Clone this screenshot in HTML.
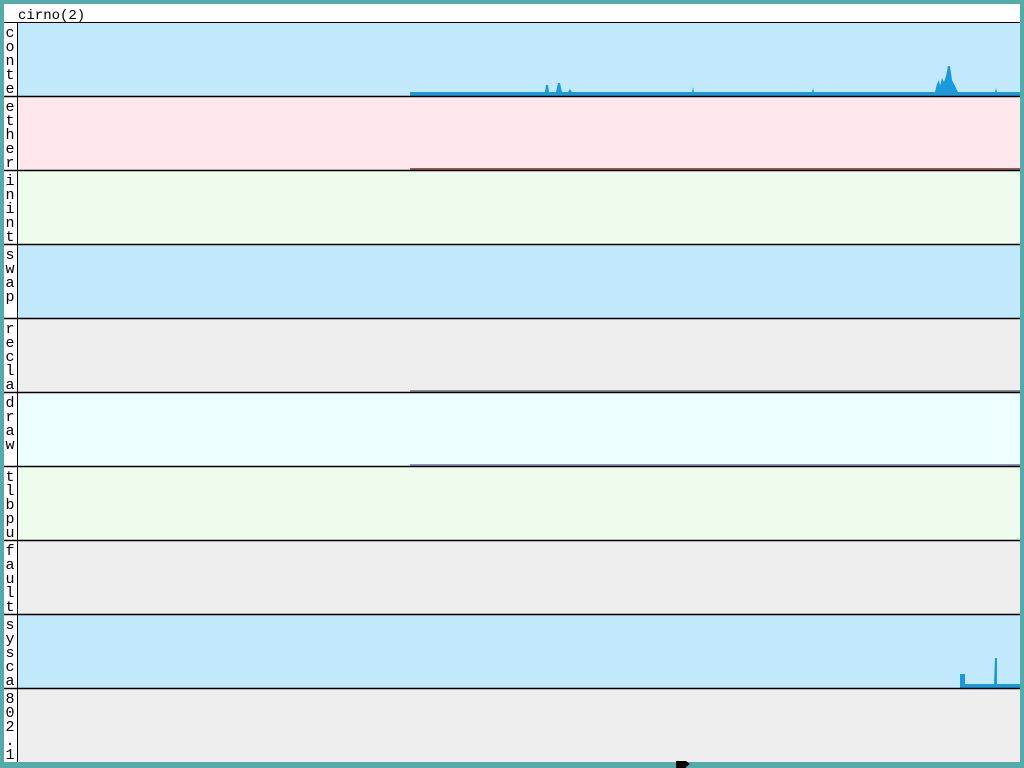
<!DOCTYPE html>
<html><head><style>
html,body{margin:0;padding:0;background:#55AAAA;}
svg{display:block}
text{font-family:"Liberation Mono",monospace;font-size:15px;fill:#000}
</style></head><body>
<svg width="1024" height="768" xmlns="http://www.w3.org/2000/svg">
<rect x="0" y="0" width="1024" height="768" fill="#55AAAA"/>
<rect x="4" y="4" width="1016" height="758" fill="#fff"/>
<text x="18" y="19" style="font-size:14px">cirno(2)</text>
<line x1="4" y1="22.5" x2="1020" y2="22.5" stroke="#000"/>
<line x1="17.5" y1="23" x2="17.5" y2="762" stroke="#000"/>
<g>
<rect x="18" y="23" width="1002" height="73" fill="#C2E8FB"/>
<rect x="18" y="97" width="1002" height="73" fill="#FFE8EC"/>
<rect x="18" y="171" width="1002" height="73" fill="#EEFCEE"/>
<rect x="18" y="245" width="1002" height="73" fill="#C2E8FB"/>
<rect x="18" y="319" width="1002" height="73" fill="#EEEEEE"/>
<rect x="18" y="393" width="1002" height="73" fill="#EEFFFF"/>
<rect x="18" y="467" width="1002" height="73" fill="#EEFCEE"/>
<rect x="18" y="541" width="1002" height="73" fill="#EEEEEE"/>
<rect x="18" y="615" width="1002" height="73" fill="#C2E8FB"/>
<rect x="18" y="689" width="1002" height="73" fill="#EEEEEE"/>
</g>
<rect x="4" y="23" width="13" height="739" fill="#fff"/>
<rect x="410" y="92" width="610" height="4" fill="#1A9AD8"/>
<polygon fill="#1A9AD8" points="545,92 546,85 548,85 549,92 556,92 558,83 560,83 562,92 568,92 570,89 572,92 692,92 693,87 694,92 812,92 813,88 814,92 935,92 937,84 939,80 940,86 942,78 944,82 946,76 948,66 950,66 952,80 954,84 956,88 958,92 995,92 996,88 997,92"/>
<rect x="410" y="168" width="610" height="2" fill="#A05A5A"/>
<rect x="410" y="390" width="610" height="2" fill="#8A8E9A"/>
<rect x="410" y="464" width="610" height="2" fill="#8A9AB8"/>
<rect x="960" y="684" width="60" height="4" fill="#1A9AD8"/>
<polygon fill="#1A9AD8" points="960,684 960,674 965,674 965,684 994,684 995,658 997,658 997,684"/>
<g stroke="#000" stroke-width="1.5">
<line x1="4" y1="96.5" x2="1020" y2="96.5"/>
<line x1="4" y1="170.5" x2="1020" y2="170.5"/>
<line x1="4" y1="244.5" x2="1020" y2="244.5"/>
<line x1="4" y1="318.5" x2="1020" y2="318.5"/>
<line x1="4" y1="392.5" x2="1020" y2="392.5"/>
<line x1="4" y1="466.5" x2="1020" y2="466.5"/>
<line x1="4" y1="540.5" x2="1020" y2="540.5"/>
<line x1="4" y1="614.5" x2="1020" y2="614.5"/>
<line x1="4" y1="688.5" x2="1020" y2="688.5"/>
</g>
<g text-anchor="middle">
<text x="10" y="37">c</text><text x="10" y="51">o</text><text x="10" y="65">n</text><text x="10" y="79">t</text><text x="10" y="93">e</text>
<text x="10" y="111">e</text><text x="10" y="125">t</text><text x="10" y="139">h</text><text x="10" y="153">e</text><text x="10" y="167">r</text>
<text x="10" y="185">i</text><text x="10" y="199">n</text><text x="10" y="213">i</text><text x="10" y="227">n</text><text x="10" y="241">t</text>
<text x="10" y="259">s</text><text x="10" y="273">w</text><text x="10" y="287">a</text><text x="10" y="301">p</text>
<text x="10" y="333">r</text><text x="10" y="347">e</text><text x="10" y="361">c</text><text x="10" y="375">l</text><text x="10" y="389">a</text>
<text x="10" y="407">d</text><text x="10" y="421">r</text><text x="10" y="435">a</text><text x="10" y="449">w</text>
<text x="10" y="481">t</text><text x="10" y="495">l</text><text x="10" y="509">b</text><text x="10" y="523">p</text><text x="10" y="537">u</text>
<text x="10" y="555">f</text><text x="10" y="569">a</text><text x="10" y="583">u</text><text x="10" y="597">l</text><text x="10" y="611">t</text>
<text x="10" y="629">s</text><text x="10" y="643">y</text><text x="10" y="657">s</text><text x="10" y="671">c</text><text x="10" y="685">a</text>
<text x="10" y="703">8</text><text x="10" y="717">0</text><text x="10" y="731">2</text><text x="10" y="745">.</text><text x="10" y="759">1</text>
</g>
<rect x="676" y="761" width="10" height="7" fill="#000"/>
<polygon points="686,761 690,764 686,767" fill="#000"/>
</svg>
</body></html>
